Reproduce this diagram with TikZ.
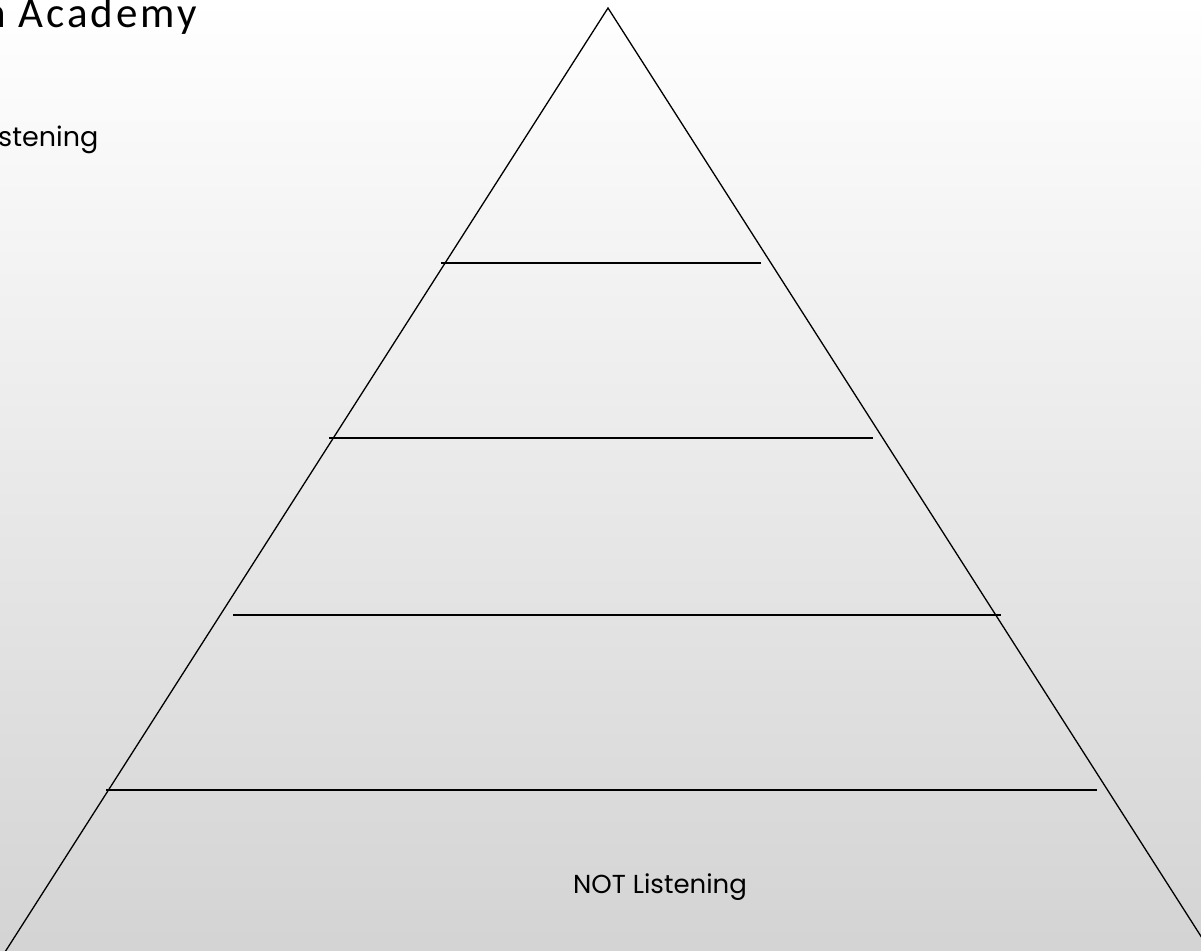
\documentclass[tikz,border=0pt]{standalone}
\usepackage{fontspec}
\newfontfamily\titlefont[LetterSpace=7]{Carlito}
\newfontfamily\bodyfont{Poppins}
\usetikzlibrary{positioning}

\begin{document}
\begin{tikzpicture}[x=1pt, y=-1pt,
  side/.style={line width=1.3pt, black},
  tier/.style={line width=2pt, black},
  title/.style={inner sep=0pt, anchor=base west, font=\titlefont\fontsize{43}{46}\selectfont},
  sub/.style={inner sep=0pt, anchor=base west, font=\bodyfont\fontsize{27}{30}\selectfont},
  lbl/.style={inner sep=0pt, anchor=base, font=\bodyfont\fontsize{26}{30}\selectfont}
]
  \clip (0,0) rectangle (1201,950);
  \shade[top color=white, middle color=black!4, bottom color=black!17] (0,0) rectangle (1201,950);

  % pyramid outline
  \coordinate (apex) at (608,8);
  \coordinate (bl) at (5,952);
  \coordinate (br) at (1211,952);
  \draw[side] (bl) -- (apex) -- (br);

  % tiers
  \foreach \y/\a/\b in {263/441/761, 438/329/873, 615/233/1001, 790/106/1097} {
    \coordinate (l\y) at (\a,\y);
    \coordinate (r\y) at (\b,\y);
    \draw[tier] (l\y) -- (r\y);
  }

  \node[title] (school) at (-17,28) {n Academy};
  \node[sub] (topic) at (-2,146) {stening};
  \node[lbl] (base) at (660,893) {NOT Listening};
\end{tikzpicture}
\end{document}
